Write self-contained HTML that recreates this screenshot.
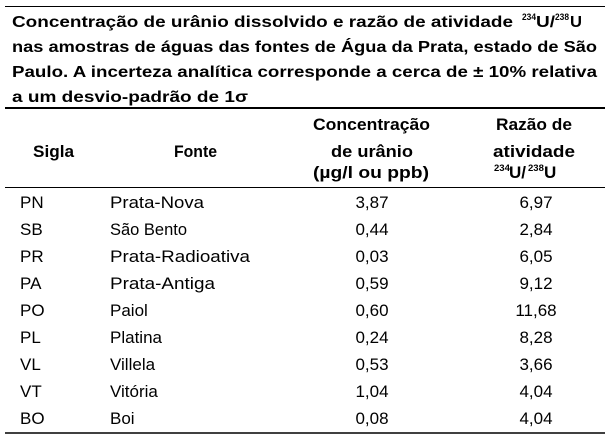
<!DOCTYPE html>
<html><head><meta charset="utf-8"><style>
html,body{margin:0;padding:0;background:#fff;}
svg{display:block;}
text{font-family:"Liberation Sans",sans-serif;fill:#000;}
.b{font-weight:bold;font-size:16px;}
.h{font-weight:bold;font-size:17px;}
.r{font-size:17px;}
.s{font-size:9.5px;}
</style></head><body>
<svg width="610" height="438" viewBox="0 0 610 438">
<line x1="5" y1="6.5" x2="605" y2="6.5" stroke="#000" stroke-width="1"/>
<text class="b" x="12" y="27" textLength="501" lengthAdjust="spacingAndGlyphs">Concentração de urânio dissolvido e razão de atividade</text>
<text class="b s" x="522" y="20" textLength="14" lengthAdjust="spacingAndGlyphs" style="font-size:9.5px">234</text>
<text class="b" x="536" y="27" textLength="19" lengthAdjust="spacingAndGlyphs">U/</text>
<text class="b s" x="555" y="20" textLength="14" lengthAdjust="spacingAndGlyphs" style="font-size:9.5px">238</text>
<text class="b" x="570" y="27" textLength="12" lengthAdjust="spacingAndGlyphs">U</text>
<text class="b" x="12" y="52" textLength="585" lengthAdjust="spacingAndGlyphs">nas amostras de águas das fontes de Água da Prata, estado de São</text>
<text class="b" x="12" y="77" textLength="585" lengthAdjust="spacingAndGlyphs">Paulo. A incerteza analítica corresponde a cerca de ± 10% relativa</text>
<text class="b" x="12" y="102" textLength="236" lengthAdjust="spacingAndGlyphs">a um desvio-padrão de 1σ</text>
<line x1="5" y1="108" x2="605" y2="108" stroke="#000" stroke-width="2"/>
<text class="h" x="33" y="157" textLength="41" lengthAdjust="spacingAndGlyphs">Sigla</text>
<text class="h" x="174" y="157" textLength="43" lengthAdjust="spacingAndGlyphs">Fonte</text>
<text class="h" x="313" y="130" textLength="117" lengthAdjust="spacingAndGlyphs">Concentração</text>
<text class="h" x="331" y="157" textLength="82" lengthAdjust="spacingAndGlyphs">de urânio</text>
<text class="h" x="313" y="178" textLength="116" lengthAdjust="spacingAndGlyphs">(µg/l ou ppb)</text>
<text class="h" x="496" y="130" textLength="76" lengthAdjust="spacingAndGlyphs">Razão de</text>
<text class="h" x="493" y="157" textLength="82" lengthAdjust="spacingAndGlyphs">atividade</text>
<text class="s" x="494" y="171" style="font-weight:bold">234</text>
<text class="h" x="509" y="178">U/</text>
<text class="s" x="528" y="171" style="font-weight:bold">238</text>
<text class="h" x="544" y="178">U</text>
<line x1="5" y1="187.5" x2="605" y2="187.5" stroke="#000" stroke-width="1"/>
<text class="r" x="20" y="208">PN</text><text class="r" x="110" y="208" textLength="94" lengthAdjust="spacingAndGlyphs">Prata-Nova</text><text class="r" x="372" y="208" text-anchor="middle">3,87</text><text class="r" x="536" y="208" text-anchor="middle">6,97</text>
<text class="r" x="20" y="235">SB</text><text class="r" x="110" y="235" textLength="77" lengthAdjust="spacingAndGlyphs">São Bento</text><text class="r" x="372" y="235" text-anchor="middle">0,44</text><text class="r" x="536" y="235" text-anchor="middle">2,84</text>
<text class="r" x="20" y="262">PR</text><text class="r" x="110" y="262" textLength="140" lengthAdjust="spacingAndGlyphs">Prata-Radioativa</text><text class="r" x="372" y="262" text-anchor="middle">0,03</text><text class="r" x="536" y="262" text-anchor="middle">6,05</text>
<text class="r" x="20" y="289">PA</text><text class="r" x="110" y="289" textLength="105" lengthAdjust="spacingAndGlyphs">Prata-Antiga</text><text class="r" x="372" y="289" text-anchor="middle">0,59</text><text class="r" x="536" y="289" text-anchor="middle">9,12</text>
<text class="r" x="20" y="316">PO</text><text class="r" x="110" y="316">Paiol</text><text class="r" x="372" y="316" text-anchor="middle">0,60</text><text class="r" x="536" y="316" text-anchor="middle">11,68</text>
<text class="r" x="20" y="343">PL</text><text class="r" x="110" y="343">Platina</text><text class="r" x="372" y="343" text-anchor="middle">0,24</text><text class="r" x="536" y="343" text-anchor="middle">8,28</text>
<text class="r" x="20" y="370">VL</text><text class="r" x="110" y="370">Villela</text><text class="r" x="372" y="370" text-anchor="middle">0,53</text><text class="r" x="536" y="370" text-anchor="middle">3,66</text>
<text class="r" x="20" y="397">VT</text><text class="r" x="110" y="397">Vitória</text><text class="r" x="372" y="397" text-anchor="middle">1,04</text><text class="r" x="536" y="397" text-anchor="middle">4,04</text>
<text class="r" x="20" y="424">BO</text><text class="r" x="110" y="424">Boi</text><text class="r" x="372" y="424" text-anchor="middle">0,08</text><text class="r" x="536" y="424" text-anchor="middle">4,04</text>
<line x1="5" y1="433" x2="605" y2="433" stroke="#000" stroke-width="1.5"/>
</svg>
</body></html>
